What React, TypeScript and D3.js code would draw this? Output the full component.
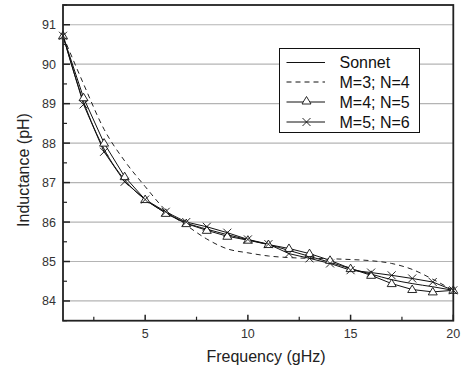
import React from "react";
import * as d3 from "d3";

const freqs = [1, 2, 3, 4, 5, 6, 7, 8, 9, 10, 11, 12, 13, 14, 15, 16, 17, 18, 19, 20];
const sonnet = [90.72, 89.05, 87.85, 87.07, 86.57, 86.24, 85.98, 85.82, 85.68, 85.55, 85.43, 85.28, 85.13, 84.98, 84.82, 84.68, 84.54, 84.44, 84.36, 84.27];
const m3n4 = [90.72, 89.5, 88.35, 87.55, 86.9, 86.3, 85.92, 85.57, 85.32, 85.22, 85.14, 85.1, 85.08, 85.07, 85.05, 85.02, 84.95, 84.8, 84.55, 84.27];
const m4n5 = [90.72, 89.15, 88.0, 87.15, 86.57, 86.22, 85.96, 85.79, 85.64, 85.54, 85.43, 85.33, 85.2, 85.03, 84.82, 84.65, 84.44, 84.29, 84.23, 84.27];
const m5n6 = [90.72, 88.98, 87.78, 87.02, 86.57, 86.26, 86.0, 85.88, 85.73, 85.56, 85.44, 85.2, 85.08, 84.95, 84.78, 84.72, 84.65, 84.57, 84.48, 84.27];
const seriesNames = ["Sonnet", "M=3; N=4", "M=4; N=5", "M=5; N=6"];
const xTicks = [5, 10, 15, 20];
const xMinor = [2.5, 7.5, 12.5, 17.5];
const yTicks = [84, 85, 86, 87, 88, 89, 90, 91];
const yMinor = [83.5, 84.5, 85.5, 86.5, 87.5, 88.5, 89.5, 90.5, 91.5];

const L = 63, R = 453.3, T = 5, B = 320.7;
const FONT = "Liberation Sans, Arial, sans-serif";

export default function App() {
  const x = d3.scaleLinear().domain([1, 20]).range([L, R]);
  const y = d3.scaleLinear().domain([83.5, 91.5]).range([B, T]);
  const pts = (vals: number[]) => freqs.map((f, i) => [f, vals[i]] as [number, number]);
  const smooth = d3.line<[number, number]>().x(d => x(d[0])).y(d => y(d[1])).curve(d3.curveMonotoneX);
  const straight = d3.line<[number, number]>().x(d => x(d[0])).y(d => y(d[1]));

  const tri = (cx: number, cy: number, k: string) => (
    <path key={k} d={`M${cx},${cy - 4.5}L${cx + 4.5},${cy + 3}L${cx - 4.5},${cy + 3}Z`} fill="white" stroke="#111" strokeWidth={0.9} />
  );
  const cross = (cx: number, cy: number, k: string) => (
    <path key={k} d={`M${cx - 4},${cy - 4}L${cx + 4},${cy + 4}M${cx - 4},${cy + 4}L${cx + 4},${cy - 4}`} stroke="#111" strokeWidth={0.9} fill="none" />
  );

  const legX = 279.5, legY = 48.5, legW = 140, legH = 84;
  const rowY = [62.5, 82, 102, 122];

  return (
    <svg width={472} height={372} style={{ position: "absolute", left: 0, top: 0 }}>
      <rect x={0} y={0} width={472} height={372} fill="white" />
      {yTicks.map(t => (
        <line key={"g" + t} x1={L} x2={R} y1={y(t)} y2={y(t)} stroke="#b4b4b4" strokeWidth={1.2} />
      ))}
      <path d={smooth(pts(m3n4)) || ""} fill="none" stroke="#222" strokeWidth={1} strokeDasharray="5,4" />
      <path d={smooth(pts(sonnet)) || ""} fill="none" stroke="#111" strokeWidth={1} />
      <path d={straight(pts(m5n6)) || ""} fill="none" stroke="#111" strokeWidth={1} />
      <path d={straight(pts(m4n5)) || ""} fill="none" stroke="#111" strokeWidth={1} />
      {freqs.map((f, i) => tri(x(f), y(m4n5[i]), "t" + i))}
      {freqs.map((f, i) => cross(x(f), y(m5n6[i]), "c" + i))}
      <rect x={L} y={T} width={R - L} height={B - T} fill="none" stroke="#222" strokeWidth={1.8} />
      {yTicks.map(t => (
        <g key={"yt" + t}>
          <line x1={L} x2={L + 7} y1={y(t)} y2={y(t)} stroke="#222" strokeWidth={1.5} />
          <text x={L - 7} y={y(t) + 4.5} textAnchor="end" fontSize={12.5} fontFamily={FONT} fill="#333">{t}</text>
        </g>
      ))}
      {yMinor.map(t => (
        <line key={"ym" + t} x1={L} x2={L + 4} y1={y(t)} y2={y(t)} stroke="#222" strokeWidth={1.2} />
      ))}
      {xTicks.map(t => (
        <g key={"xt" + t}>
          <line x1={x(t)} x2={x(t)} y1={B} y2={B - 6} stroke="#222" strokeWidth={1.5} />
          <text x={x(t)} y={B + 17} textAnchor="middle" fontSize={12.5} fontFamily={FONT} fill="#333">{t}</text>
        </g>
      ))}
      {xMinor.map(t => (
        <line key={"xm" + t} x1={x(t)} x2={x(t)} y1={B} y2={B - 4} stroke="#222" strokeWidth={1.2} />
      ))}
      <text x={266} y={362} textAnchor="middle" fontSize={16} fontFamily={FONT} fill="#222">Frequency (gHz)</text>
      <text transform={`translate(28.5,170) rotate(-90)`} textAnchor="middle" fontSize={16} fontFamily={FONT} fill="#222">Inductance (pH)</text>
      <rect x={legX} y={legY} width={legW} height={legH} fill="white" stroke="#111" strokeWidth={1} />
      {seriesNames.map((n, i) => (
        <g key={"l" + i}>
          <line x1={286.5} x2={325} y1={rowY[i]} y2={rowY[i]} stroke="#111" strokeWidth={1} strokeDasharray={i === 1 ? "5,4" : undefined} />
          {i === 2 && tri(306.5, rowY[i] - 1, "lt")}
          {i === 3 && cross(306.5, rowY[i], "lc")}
          <text x={339.5} y={rowY[i] + 5.5} fontSize={16} fontFamily={FONT} fill="#111">{n}</text>
        </g>
      ))}
    </svg>
  );
}
